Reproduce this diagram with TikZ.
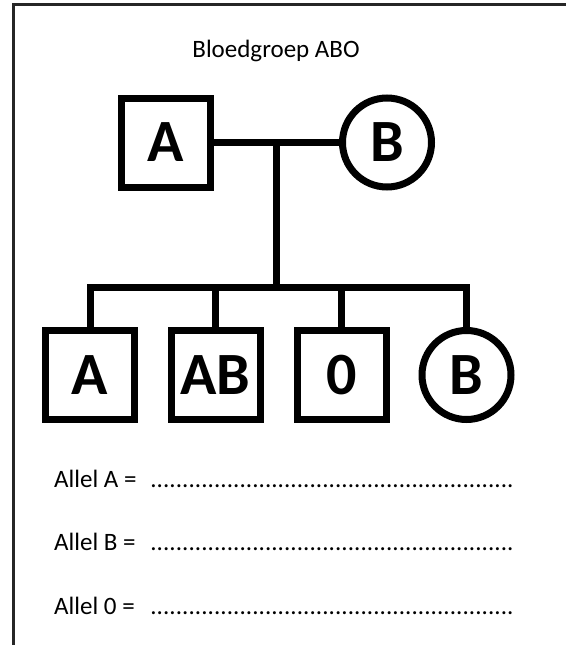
\documentclass[tikz,border=0pt]{standalone}
\usepackage{fontspec}
\setmainfont{Carlito}
\usetikzlibrary{calc}
\tikzset{
  person/.style={draw=black, line width=7pt, inner sep=0pt, font=\fontsize{60}{64}\selectfont\bfseries},
  male/.style={person, rectangle, minimum size=89pt},
  female/.style={person, circle, minimum size=89pt},
  pedline/.style={draw=black, line width=7pt, line join=miter},
  label/.style={font=\fontsize{25}{29}\selectfont, inner sep=0pt},
  frameline/.style={draw=black!85, line width=2.2pt}
}
\newcommand{\leaderdots}[1]{\makebox[#1][l]{\xleaders\hbox{.}\hfill}}
\begin{document}
\begin{tikzpicture}[x=1pt, y=-1pt]
  \useasboundingbox (0,0) rectangle (566,645);
  % open page frame (left and top edges)
  \coordinate (fbl) at (13.5,646);
  \coordinate (ftl) at (13.5,4.5);
  \coordinate (ftr) at (566,4.5);
  \draw[frameline] (fbl) -- (ftl) -- (ftr);

  % title
  \node[label, anchor=base] (title) at (276,57) {Bloedgroep ABO};

  % parents
  \node[male] (father) at (165.5,142.5) {A};
  \node[female] (mother) at (387,142.5) {B};
  \draw[pedline] (father) -- (mother);
  \coordinate (mid) at ($(father.east)!0.5!(mother.west)$);

  % children
  \node[male] (c1) at (90,375) {A};
  \node[male] (c2) at (215.5,375) {AB};
  \node[male] (c3) at (341.5,375) {0};
  \node[female] (c4) at (466.5,375) {B};

  % sibship line
  \coordinate (sib) at (mid |- 0,287);
  \draw[pedline] (mid) -- (sib);
  \draw[pedline] (c1.north) |- (c4.north |- sib) -- (c4.north);
  \draw[pedline] (c2.north) -- (c2.north |- sib);
  \draw[pedline] (c3.north) -- (c3.north |- sib);

  % answer lines
  \node[label, anchor=base west] (alA) at (54,487) {Allel A =};
  \node[label, anchor=base west] (dotA) at (150,487) {\leaderdots{364pt}};
  \node[label, anchor=base west] (alB) at (54,550) {Allel B =};
  \node[label, anchor=base west] (dotB) at (150,550) {\leaderdots{364pt}};
  \node[label, anchor=base west] (al0) at (54,614) {Allel 0 =};
  \node[label, anchor=base west] (dot0) at (150,614) {\leaderdots{364pt}};
\end{tikzpicture}
\end{document}
